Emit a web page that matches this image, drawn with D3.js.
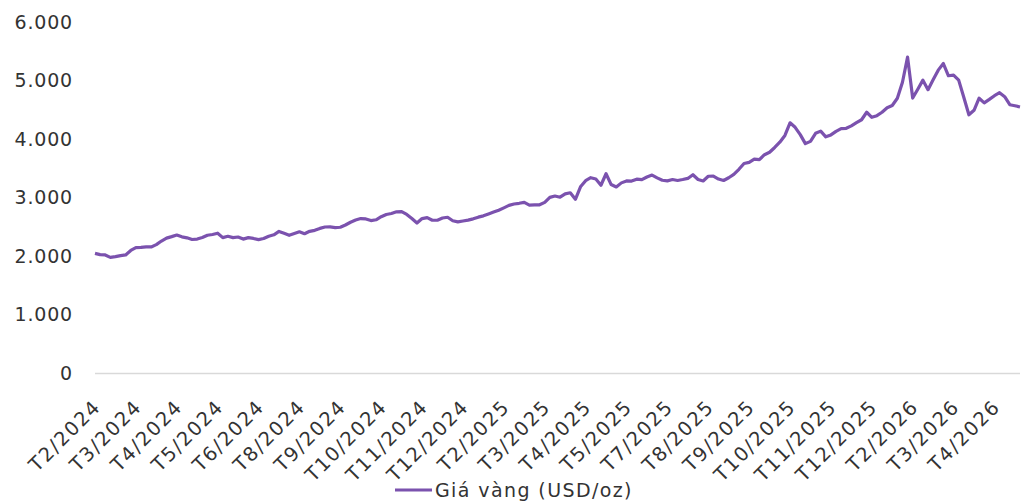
<!DOCTYPE html>
<html lang="vi">
<head>
    <meta content="text/html; charset=utf-8" http-equiv="content-type"/>
    <title>Giá vàng</title>
    <script src="https://d3js.org/d3.v7.min.js"></script>
    <style>
        body { margin: 0; background: #fff; }
        text { font-family: "DejaVu Sans", sans-serif; fill: #333; }
    </style>
</head>
<body>
<div id="my_dataviz"></div>

<script>

// gold price, USD/oz (one point every ~5 px)
var prices = [
  2045, 2023, 2018, 1977, 1989, 2006, 2018, 2095, 2143, 2146,
  2155, 2155, 2194, 2256, 2306, 2331, 2359, 2328, 2311, 2282,
  2290, 2316, 2355, 2367, 2390, 2314, 2337, 2314, 2325, 2289,
  2314, 2300, 2280, 2299, 2338, 2362, 2420, 2388, 2354, 2383,
  2414, 2381, 2422, 2439, 2472, 2496, 2497, 2486, 2491, 2530,
  2577, 2614, 2640, 2633, 2606, 2619, 2671, 2710, 2727, 2755,
  2760, 2710, 2640, 2563, 2640, 2657, 2611, 2612, 2649, 2662,
  2602, 2583, 2599, 2614, 2635, 2664, 2686, 2719, 2751, 2782,
  2823, 2866, 2889, 2901, 2916, 2870, 2873, 2875, 2916, 3002,
  3026, 3005, 3063, 3081, 2969, 3182, 3288, 3338, 3315, 3209,
  3406, 3221, 3180, 3250, 3283, 3281, 3314, 3305, 3351, 3384,
  3336, 3295, 3285, 3307, 3291, 3307, 3326, 3389, 3308, 3283,
  3363, 3365, 3315, 3291, 3338, 3396, 3482, 3581, 3600, 3655,
  3646, 3732, 3773, 3855, 3945, 4061, 4277, 4200, 4075, 3921,
  3960, 4097, 4135, 4037, 4070, 4131, 4178, 4183, 4224, 4279,
  4329, 4457, 4371, 4399, 4457, 4534, 4572, 4697, 4971, 5400,
  4700, 4850, 5006, 4843, 5011, 5177, 5290, 5081, 5091, 5006,
  4714, 4414, 4491, 4697, 4618, 4677, 4740, 4791, 4723, 4586,
  4569, 4548
];

// category labels, one every 8 points
var monthLabels = [
  "T2/2024", "T3/2024", "T4/2024", "T5/2024", "T6/2024", "T8/2024",
  "T9/2024", "T10/2024", "T11/2024", "T12/2024", "T2/2025", "T3/2025",
  "T4/2025", "T5/2025", "T7/2025", "T8/2025", "T9/2025", "T10/2025",
  "T11/2025", "T12/2025", "T2/2026", "T3/2026", "T4/2026"
];
var labelStep = 8;

var yTicks = [0, 1000, 2000, 3000, 4000, 5000, 6000];
var seriesName = "Giá vàng (USD/oz)";

// set the dimensions and margins of the graph
var margin = {top: 22, right: 2, bottom: 128, left: 95},
    width = 1022 - margin.left - margin.right,
    height = 501 - margin.top - margin.bottom;

var svg = d3.select("#my_dataviz")
  .append("svg")
    .attr("width", 1022)
    .attr("height", 501)
  .append("g")
    .attr("transform", "translate(" + margin.left + "," + margin.top + ")");

// X scale: index of the point
var x = d3.scaleLinear()
  .domain([0, prices.length - 1])
  .range([0, width]);

// Y scale
var y = d3.scaleLinear()
  .domain([0, 6000])
  .range([height, 0]);

var fmt = function(d) { return d3.format(",")(d).replace(/,/g, "."); };

// Y labels (no axis line)
svg.append("g")
  .selectAll("text")
  .data(yTicks)
  .enter()
  .append("text")
    .attr("x", -22)
    .attr("y", function(d) { return y(d); })
    .attr("dy", "0.36em")
    .attr("text-anchor", "end")
    .style("font-size", "19px")
    .style("letter-spacing", "0.8px")
    .text(fmt);

// X axis line
svg.append("line")
  .attr("x1", 0)
  .attr("x2", width)
  .attr("y1", y(0) + 0.5)
  .attr("y2", y(0) + 0.5)
  .attr("stroke", "#d9d9d9")
  .attr("stroke-width", 1.3);

// rotated month labels
svg.append("g")
  .selectAll("text")
  .data(monthLabels)
  .enter()
  .append("text")
    .attr("text-anchor", "end")
    .attr("transform", function(d, i) {
      return "translate(" + (x(i * labelStep) + 2) + "," + (y(0) + 30) + ")rotate(-45)";
    })
    .attr("dy", "0.36em")
    .style("font-size", "19.5px")
    .style("letter-spacing", "1.6px")
    .text(function(d) { return d; });

// the line
svg.append("path")
  .datum(prices)
  .attr("fill", "none")
  .attr("stroke", "#7B52AE")
  .attr("stroke-width", 3.2)
  .attr("stroke-linejoin", "round")
  .attr("d", d3.line()
    .x(function(d, i) { return x(i); })
    .y(function(d) { return y(d); }));

// legend
var legend = svg.append("g")
  .attr("transform", "translate(" + (395 - margin.left) + "," + (490 - margin.top) + ")");
legend.append("line")
  .attr("x1", 0).attr("x2", 37)
  .attr("y1", 0).attr("y2", 0)
  .attr("stroke", "#7B52AE")
  .attr("stroke-width", 3.2);
legend.append("text")
  .attr("x", 40)
  .attr("dy", "0.36em")
  .style("font-size", "19px")
  .style("letter-spacing", "1.4px")
  .text(seriesName);

</script>
</body>
</html>
